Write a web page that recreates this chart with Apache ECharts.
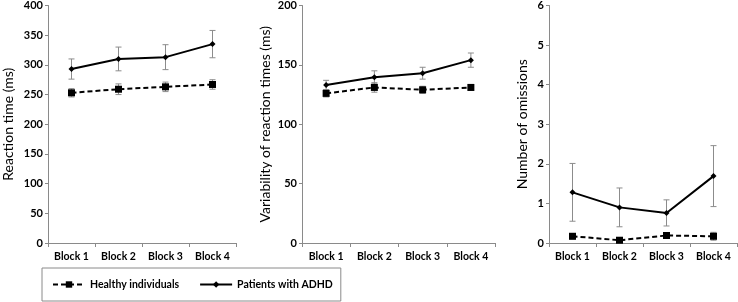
<!DOCTYPE html>
<html>
<head>
<meta charset="utf-8">
<script src="https://cdn.jsdelivr.net/npm/echarts@6/dist/echarts.min.js"></script>
<style>
  html, body { margin: 0; padding: 0; background: #fff; }
  #main { width: 738px; height: 302px; }
</style>
</head>
<body>
<div id="main"></div>
<script>
// 类别与数据
const categories = ['Block 1', 'Block 2', 'Block 3', 'Block 4'];

// 反应时
const rtHealthy = [253, 259, 263, 267];
const rtHealthyErr = [7, 9, 8, 8];
const rtAdhd = [293, 310, 313, 335];
const rtAdhdErr = [17, 20, 21, 23];

// 反应时变异性
const varHealthy = [126, 131, 129, 131];
const varHealthyErr = [3, 4, 3, 2.5];
const varAdhd = [133, 139.5, 143, 154];
const varAdhdErr = [4, 5.5, 5, 6];

// 漏报数
const omHealthy = [0.17, 0.07, 0.19, 0.17];
const omHealthyErr = [0.07, 0.03, 0.06, 0.1];
const omAdhd = [1.28, 0.9, 0.76, 1.69];
const omAdhdErr = [0.73, 0.49, 0.33, 0.77];

const textColor = '#000';
const axisColor = '#8a8a8a';
const fontFamily = 'Lato, "Liberation Sans", sans-serif';

// 面板设置
const panels = [
  {left: 47, width: 189, max: 400, interval: 50, name: 'Reaction time (ms)', gap: 33,
   healthy: rtHealthy, healthyErr: rtHealthyErr, adhd: rtAdhd, adhdErr: rtAdhdErr},
  {left: 302, width: 193, max: 200, interval: 50, name: 'Variability of reaction times (ms)', gap: 30,
   healthy: varHealthy, healthyErr: varHealthyErr, adhd: varAdhd, adhdErr: varAdhdErr},
  {left: 549, width: 188, max: 6, interval: 1, name: 'Number of omissions', gap: 20,
   healthy: omHealthy, healthyErr: omHealthyErr, adhd: omAdhd, adhdErr: omAdhdErr}
];

// 误差线
function errorData(mean, err) {
  return mean.map((v, i) => [i, v - err[i], v + err[i]]);
}

function renderError(params, api) {
  const lo = api.coord([api.value(0), api.value(1)]);
  const hi = api.coord([api.value(0), api.value(2)]);
  const w = 3;
  const style = {stroke: '#8c8c8c', lineWidth: 1};
  return {
    type: 'group',
    children: [
      {type: 'line', shape: {x1: lo[0], y1: lo[1], x2: hi[0], y2: hi[1]}, style: style},
      {type: 'line', shape: {x1: lo[0] - w, y1: lo[1], x2: lo[0] + w, y2: lo[1]}, style: style},
      {type: 'line', shape: {x1: hi[0] - w, y1: hi[1], x2: hi[0] + w, y2: hi[1]}, style: style}
    ]
  };
}

const grid = [], xAxis = [], yAxis = [], series = [];

panels.forEach((p, idx) => {
  grid.push({left: p.left, width: p.width, top: 5, bottom: 59});
  xAxis.push({
    type: 'category', gridIndex: idx, data: categories, boundaryGap: true,
    axisLine: {lineStyle: {color: axisColor, width: 1}},
    axisTick: {show: true, length: 4, lineStyle: {color: axisColor}},
    axisLabel: {color: textColor, fontFamily: fontFamily, fontWeight: 'bold', fontSize: 10.5,
      margin: 8, interval: 0, hideOverlap: false}
  });
  yAxis.push({
    type: 'value', gridIndex: idx, min: 0, max: p.max, interval: p.interval,
    name: p.name, nameLocation: 'middle', nameRotate: 90, nameGap: p.gap,
    nameTextStyle: {color: textColor, fontFamily: fontFamily, fontSize: 14},
    axisLine: {show: true, lineStyle: {color: axisColor, width: 1}},
    axisTick: {show: true, length: 3, lineStyle: {color: axisColor}},
    splitLine: {show: false},
    axisLabel: {color: textColor, fontFamily: fontFamily, fontWeight: 'bold', fontSize: 11, margin: 5}
  });
  series.push({
    type: 'custom', xAxisIndex: idx, yAxisIndex: idx, renderItem: renderError,
    data: errorData(p.healthy, p.healthyErr), z: 1, silent: true
  });
  series.push({
    type: 'custom', xAxisIndex: idx, yAxisIndex: idx, renderItem: renderError,
    data: errorData(p.adhd, p.adhdErr), z: 1, silent: true
  });
  series.push({
    name: 'Healthy individuals', type: 'line', xAxisIndex: idx, yAxisIndex: idx,
    data: p.healthy, symbol: 'rect', symbolSize: 7, z: 3,
    lineStyle: {color: '#000', width: 2, type: [5, 3]},
    itemStyle: {color: '#000'}
  });
  series.push({
    name: 'Patients with ADHD', type: 'line', xAxisIndex: idx, yAxisIndex: idx,
    data: p.adhd, symbol: 'diamond', symbolSize: 6, z: 3,
    lineStyle: {color: '#000', width: 2},
    itemStyle: {color: '#000'}
  });
});

const chart = echarts.init(document.getElementById('main'));
chart.setOption({
  backgroundColor: '#fff',
  animation: false,
  grid: grid,
  xAxis: xAxis,
  yAxis: yAxis,
  legend: {
    data: ['Healthy individuals', 'Patients with ADHD'],
    left: 42, top: 268,
    padding: [11, 8, 11, 10],
    itemWidth: 32, itemHeight: 8, itemGap: 20,
    borderColor: '#8a8a8a', borderWidth: 1,
    selectedMode: false,
    textStyle: {color: textColor, fontFamily: fontFamily, fontWeight: 'bold', fontSize: 10.5}
  },
  series: series
});
</script>
</body>
</html>
